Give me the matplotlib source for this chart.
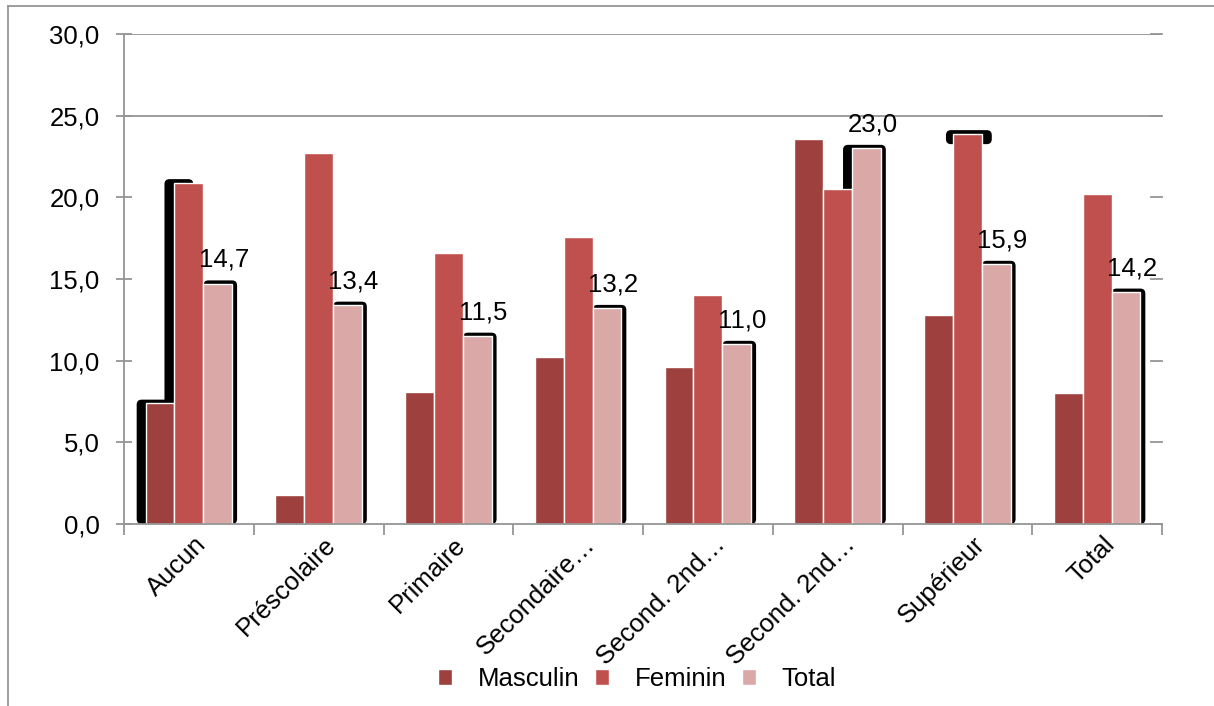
import matplotlib
matplotlib.use("Agg")
import matplotlib.pyplot as plt
import numpy as np
from matplotlib.patches import FancyBboxPatch, Patch
from matplotlib.lines import Line2D
import matplotlib.transforms as mtransforms

plt.rcParams['font.family'] = ['Liberation Sans', 'DejaVu Sans']

categories = ["Aucun", "Préscolaire", "Primaire", "Secondaire…",
              "Second. 2nd…", "Second. 2nd…", "Supérieur", "Total"]
masculin = [7.4, 1.8, 8.1, 10.2, 9.6, 23.6, 12.8, 8.0]
feminin = [20.9, 22.7, 16.6, 17.6, 14.0, 20.5, 23.9, 20.2]
total = [14.7, 13.4, 11.5, 13.2, 11.0, 23.0, 15.9, 14.2]
series_names = ["Masculin", "Feminin", "Total"]
colors = ["#9D403E", "#C0504D", "#D9A8A7"]

W, H, DPI = 1214, 706, 100
FS = 18.5
fig = plt.figure(figsize=(W / DPI, H / DPI), dpi=DPI)
ax_l, ax_r, ax_t, ax_b = 124, 1162, 34, 524
ax = fig.add_axes([ax_l / W, (H - ax_b) / H, (ax_r - ax_l) / W, (ax_b - ax_t) / H])

ymax = 30
ax.set_xlim(-0.5, len(categories) - 0.5)
ax.set_ylim(0, ymax)

# pixel -> data units
px_x = (len(categories)) / (ax_r - ax_l)
px_y = ymax / (ax_b - ax_t)

x = np.arange(len(categories))
bw = 0.222
data = [masculin, feminin, total]
offsets = [-bw, 0, bw]

# black shadows behind some bars (group, series, left px, right px, cap px or None)
shadows = [(0, 0, 9, 0, None), (0, 1, 10, -10, None), (0, 2, 0, 5, None),
           (1, 2, 0, 5, None), (2, 2, 0, 5, None), (3, 2, 0, 5, None),
           (4, 2, 0, 5, None), (5, 2, 9, 5, None), (6, 1, 7, 10, 14),
           (6, 2, 0, 5, None), (7, 2, 0, 5, None)]
for g, s, lpx, rpx, cap in shadows:
    val = data[s][g]
    x0 = x[g] + offsets[s] - bw / 2 - lpx * px_x
    x1 = x[g] + offsets[s] + bw / 2 + rpx * px_x
    top = val + 3.5 * px_y
    bottom = 0 if cap is None else top - cap * px_y
    r = 5
    p = FancyBboxPatch((x0, bottom), x1 - x0, top - bottom,
                       boxstyle="round,pad=0,rounding_size=%f" % (r * px_x),
                       mutation_aspect=px_y / px_x,
                       facecolor="black", edgecolor="none", zorder=1)
    ax.add_patch(p)

for s in range(3):
    ax.bar(x + offsets[s], data[s], width=bw, color=colors[s],
           edgecolor="white", linewidth=1.0, zorder=2, label=series_names[s])

# data labels for Total series
for i, v in enumerate(total):
    ax.annotate(f"{v:.1f}".replace(".", ","), (x[i] + bw, v),
                xytext=(6, 24), textcoords="offset pixels",
                ha="center", va="center", fontsize=FS, zorder=4)

grid_c = "#959595"
for yv in [25, 30]:
    ax.axhline(yv, color=grid_c, linewidth=1.3, zorder=0)

ax.set_yticks(np.arange(0, 31, 5))
ax.set_yticklabels([f"{v:.1f}".replace(".", ",") for v in np.arange(0, 31, 5)],
                   fontsize=FS)
ax.tick_params(axis="y", direction="inout", length=11, width=1.3, color=grid_c,
               pad=12, right=False)
# right ticks: short inward marks
for yv in np.arange(0, 31, 5):
    ax.plot([ax.get_xlim()[1] - 11 * px_x, ax.get_xlim()[1]], [yv, yv],
            color=grid_c, linewidth=1.3, zorder=0, clip_on=False)

ax.set_xticks(np.arange(-0.5, len(categories), 1), minor=True)
ax.set_xticks(x)
ax.set_xticklabels(categories, rotation=45, ha="right", fontsize=FS)
ax.tick_params(axis="x", which="major", length=0, pad=6)
ax.tick_params(axis="x", which="minor", direction="out", length=8, width=1.3,
               color=grid_c)
shift = mtransforms.ScaledTranslation(22 / DPI, 0, fig.dpi_scale_trans)
for lab in ax.get_xticklabels():
    lab.set_transform(lab.get_transform() + shift)

for sp in ["top", "right"]:
    ax.spines[sp].set_visible(False)
for sp in ["left", "bottom"]:
    ax.spines[sp].set_color(grid_c)
    ax.spines[sp].set_linewidth(1.3)

handles = [Patch(facecolor=c, edgecolor="white") for c in colors]
fig.legend(handles, series_names, loc="center", bbox_to_anchor=(637 / W, 1 - 679 / H),
           ncol=3, frameon=False, fontsize=FS, handlelength=0.55, handleheight=0.55,
           handletextpad=1.0, columnspacing=0.6)

# outer chart frame
fig.add_artist(Line2D([8 / W, 1], [1 - 6 / H, 1 - 6 / H], color=grid_c, linewidth=1.3))
fig.add_artist(Line2D([8 / W, 8 / W], [0, 1 - 6 / H], color=grid_c, linewidth=1.3))

fig.savefig("out.png", dpi=DPI)
